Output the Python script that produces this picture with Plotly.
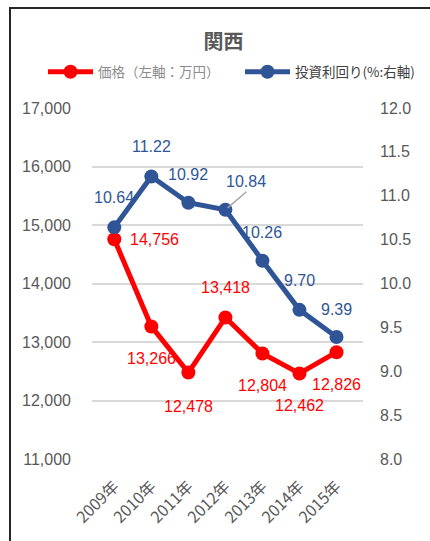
import plotly.graph_objects as go

years = ["2009年", "2010年", "2011年", "2012年", "2013年", "2014年", "2015年"]
price = [14756, 13266, 12478, 13418, 12804, 12462, 12826]
yield_pct = [10.64, 11.22, 10.92, 10.84, 10.26, 9.70, 9.39]
price_labels = ["14,756", "13,266", "12,478", "13,418", "12,804", "12,462", "12,826"]
yield_labels = ["10.64", "11.22", "10.92", "10.84", "10.26", "9.70", "9.39"]

RED = "#FF0000"
BLUE = "#2F5597"
GRAY = "#595959"
NUMFONT = "Liberation Sans, Arial, sans-serif"
JPFONT = "Noto Sans CJK JP, sans-serif"

fig = go.Figure()
fig.add_trace(go.Scatter(x=years, y=price, name="価格（左軸：万円）", mode="lines+markers",
                         line=dict(color=RED, width=5), marker=dict(color=RED, size=14),
                         yaxis="y", legend="legend"))
fig.add_trace(go.Scatter(x=years, y=yield_pct, name="投資利回り(%:右軸)", mode="lines+markers",
                         line=dict(color=BLUE, width=5), marker=dict(color=BLUE, size=14),
                         yaxis="y2", legend="legend2"))

ann = []
red_off = [(40, 0), (0, -32), (0, -34), (0, 30), (0, -32), (0, -32), (0, -32)]
for i, (xs, ys) in enumerate(red_off):
    ann.append(dict(x=years[i], y=price[i], yref="y", text=price_labels[i], showarrow=False,
                    xshift=xs, yshift=ys, font=dict(color=RED, size=16, family=NUMFONT)))
blue_off = [(0, 30), (0, 30), (0, 28), None, (0, 28), (0, 29), (0, 28)]
for i, o in enumerate(blue_off):
    if o is None:
        ann.append(dict(x=years[i], y=yield_pct[i], yref="y2", text=yield_labels[i],
                        showarrow=True, arrowhead=0, arrowcolor="#A6A6A6", arrowwidth=1.5,
                        ax=21, ay=-18, standoff=3, xanchor="center", yanchor="bottom",
                        font=dict(color=BLUE, size=16, family=NUMFONT)))
    else:
        ann.append(dict(x=years[i], y=yield_pct[i], yref="y2", text=yield_labels[i],
                        showarrow=False, xshift=o[0], yshift=o[1],
                        font=dict(color=BLUE, size=16, family=NUMFONT)))

legend_common = dict(orientation="h", xref="container", yref="container", xanchor="left",
                     y=1 - 72 / 541, yanchor="middle", itemwidth=45,
                     bgcolor="rgba(0,0,0,0)")

fig.update_layout(
    width=430, height=541,
    margin=dict(l=92, r=67, t=108, b=82, autoexpand=False),
    paper_bgcolor="white", plot_bgcolor="white",
    title=dict(text="<b>関西</b>", x=0.52, xref="container", xanchor="center", y=1 - 42 / 541,
               yref="container", yanchor="middle",
               font=dict(family=JPFONT, size=20, color=GRAY)),
    showlegend=True,
    legend=dict(x=43 / 430, font=dict(family=JPFONT, size=13.5, color="#8C8C8C"), **legend_common),
    legend2=dict(x=240 / 430, font=dict(family=JPFONT, size=13.5, color="#404040"), **legend_common),
    xaxis=dict(type="category", showgrid=False, showline=False, ticks="", tickangle=-45,
               tickfont=dict(family=JPFONT, size=16, color=GRAY), ticklabelstandoff=14),
    yaxis=dict(range=[11000, 17000], dtick=1000, tickformat=",d", showgrid=True,
               gridcolor="#D9D9D9", gridwidth=1.5, zeroline=False, showline=False, ticks="",
               tickfont=dict(family=NUMFONT, size=16, color=GRAY), ticklabelstandoff=20),
    yaxis2=dict(range=[8, 12], dtick=0.5, tickformat=".1f", overlaying="y", side="right",
                showgrid=False, zeroline=False, showline=False, ticks="",
                tickfont=dict(family=NUMFONT, size=16, color=GRAY), ticklabelstandoff=16),
    annotations=ann,
    shapes=[dict(type="rect", xref="paper", yref="paper",
                 x0=(10 - 92) / 271, x1=1.4, y0=-0.4, y1=(459 - 8) / 351,
                 line=dict(color="#262626", width=2), fillcolor="rgba(0,0,0,0)", layer="below")],
)

fig.write_html("out.html", config={"displayModeBar": False},
               post_script="document.body.style.margin='0px';document.body.style.overflow='hidden';")
